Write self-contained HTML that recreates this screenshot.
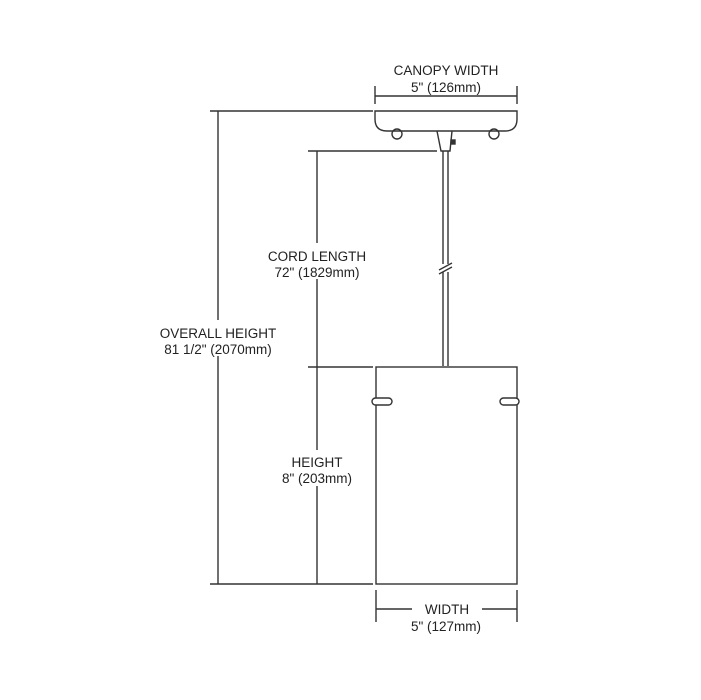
<!DOCTYPE html>
<html><head><meta charset="utf-8"><style>
html,body{margin:0;padding:0;background:#fff;}
svg{display:block;}
text{font-family:"Liberation Sans",Arial,sans-serif;font-size:13.5px;fill:#222;text-anchor:middle;}
</style></head><body>
<svg width="701" height="700" viewBox="0 0 701 700" xmlns="http://www.w3.org/2000/svg">
<g stroke="#333" stroke-width="1.4" fill="none">
  <line x1="375" y1="86" x2="375" y2="104"/>
  <line x1="517" y1="86" x2="517" y2="104"/>
  <line x1="375" y1="96" x2="517" y2="96"/>
  <path d="M375 111 L517 111 L517 119 Q517 131 505 131 L387 131 Q375 131 375 119 Z"/>
  <circle cx="397" cy="134" r="5"/>
  <circle cx="494" cy="134" r="5"/>
  <path d="M437 131 L441 151 L450 151 L452 131"/>
  <rect x="451" y="140" width="4" height="4" fill="#333"/>
  <line x1="443" y1="151" x2="443" y2="366"/>
  <line x1="448" y1="151" x2="448" y2="366"/>
  <line x1="210" y1="111" x2="373" y2="111"/>
  <line x1="218" y1="111" x2="218" y2="584"/>
  <line x1="210" y1="584" x2="373" y2="584"/>
  <line x1="308" y1="151" x2="437" y2="151"/>
  <line x1="317" y1="151" x2="317" y2="584"/>
  <line x1="308" y1="367" x2="373" y2="367"/>
  <rect x="376" y="367" width="141" height="217"/>
  <rect x="372" y="398" width="20" height="7" rx="3.5" fill="#fff"/>
  <rect x="500" y="398" width="19" height="7" rx="3.5" fill="#fff"/>
  <line x1="376" y1="590" x2="376" y2="622"/>
  <line x1="517" y1="590" x2="517" y2="622"/>
  <line x1="376" y1="609" x2="412" y2="609"/>
  <line x1="482" y1="609" x2="517" y2="609"/>
</g>
<rect x="440" y="264" width="11" height="8" fill="#fff"/>
<g stroke="#333" stroke-width="1.3">
  <line x1="439" y1="270" x2="452" y2="263"/>
  <line x1="439" y1="274" x2="452" y2="267"/>
</g>
<rect x="258" y="243" width="119" height="36" fill="#fff"/>
<rect x="153" y="320" width="130" height="36" fill="#fff"/>
<rect x="278" y="450" width="79" height="36" fill="#fff"/>
<text x="446" y="75">CANOPY WIDTH</text>
<text x="446" y="92">5" (126mm)</text>
<text x="317" y="261">CORD LENGTH</text>
<text x="317" y="277">72" (1829mm)</text>
<text x="218" y="338">OVERALL HEIGHT</text>
<text x="218" y="354">81 1/2" (2070mm)</text>
<text x="317" y="467">HEIGHT</text>
<text x="317" y="483">8" (203mm)</text>
<text x="447" y="614">WIDTH</text>
<text x="446" y="631">5" (127mm)</text>
</svg>
</body></html>
